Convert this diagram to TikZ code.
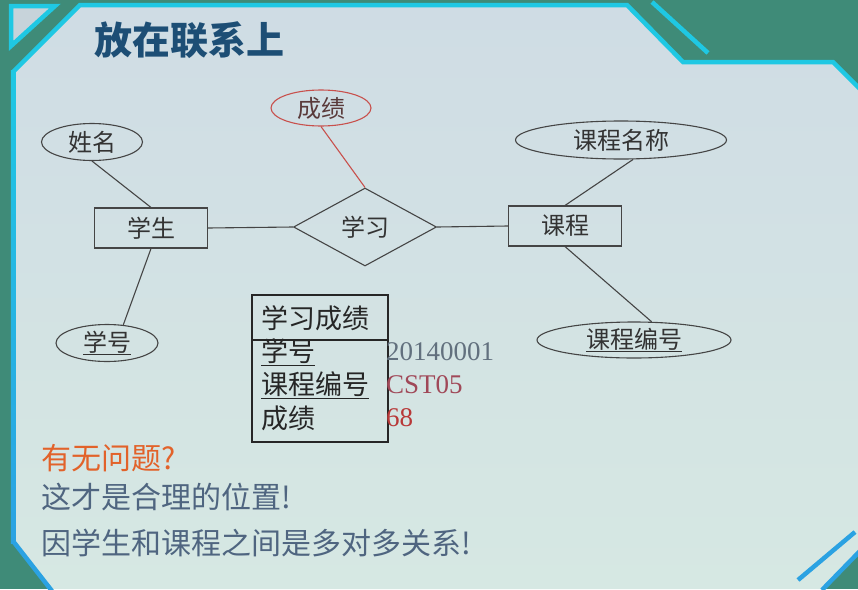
\documentclass[tikz,border=0pt]{standalone}
\usepackage{fontspec}
\setmainfont{Liberation Serif}
\newfontfamily\cjk{Noto Sans CJK SC}
\usetikzlibrary{shapes.geometric}

\definecolor{bgteal}{HTML}{3F8B78}
\definecolor{paneltop}{HTML}{CFDCE4}
\definecolor{panelbot}{HTML}{D6E8E3}
\definecolor{framecyan}{HTML}{1FC8E3}
\definecolor{frameblue}{HTML}{2BA2E2}
\definecolor{titleblue}{HTML}{1D4E75}
\definecolor{linegray}{HTML}{454545}
\definecolor{ertext}{HTML}{333333}
\definecolor{attrred}{HTML}{C8504C}
\definecolor{attrtext}{HTML}{5A3A3A}
\definecolor{valblue}{HTML}{62707E}
\definecolor{valmaroon}{HTML}{A04858}
\definecolor{valred}{HTML}{B83838}
\definecolor{askorange}{HTML}{E2622A}
\definecolor{notegray}{HTML}{4F6580}

\begin{document}
\begin{tikzpicture}[x=1pt,y=-1pt,
  er/.style={draw=linegray, line width=1.1pt, inner sep=0pt, text=ertext,
             font=\cjk\fontsize{24}{26}\selectfont},
  attr/.style={er, ellipse},
  entity/.style={er, rectangle, minimum width=113pt, minimum height=40pt},
  relation/.style={er, diamond, aspect=1.83, minimum width=143pt, minimum height=78pt},
  link/.style={draw=linegray, line width=1.1pt},
  frame/.style={draw=framecyan, line width=4.5pt, line join=miter},
  tabtext/.style={anchor=west, inner sep=0pt, text=black!85,
                  font=\cjk\fontsize{27}{29}\selectfont},
  tabval/.style={anchor=west, inner sep=0pt, font=\fontsize{27}{29}\selectfont},
  note/.style={anchor=west, inner sep=0pt, font=\cjk\fontsize{30}{32}\selectfont}]

\useasboundingbox (0,0) rectangle (858,589);

% slide background and content panel
\fill[bgteal] (0,0) rectangle (858,589);
\shade[top color=paneltop, bottom color=panelbot]
  (13,70) -- (80,5) -- (627,5) -- (683,62) -- (833,62) -- (858,87)
  -- (858,553) -- (822,589) -- (50,589) -- (13,543) -- cycle;

% frame lines
\draw[frame] (13,72) -- (80,5) -- (627,5) -- (683,62) -- (833,62) -- (860,89);
\shade[top color=framecyan, bottom color=frameblue] (10.75,70) rectangle (15.25,543);
\draw[draw=frameblue, line width=4.5pt] (13,541) -- (52,591);
\draw[frame] (652,2) -- (708,53);
\draw[frame, fill=paneltop!90!gray] (11,6) -- (55,6) -- (11,46) -- cycle;
\draw[draw=frameblue, line width=4.5pt] (855,532) -- (798,580);
\draw[draw=frameblue, line width=4.5pt] (860,551) -- (822,590);

% title
\node[anchor=west, inner sep=0pt, text=titleblue,
      font=\cjk\bfseries\fontsize{38}{40}\selectfont] (title) at (94,40) {放在联系上};

% E-R diagram
\node[attr, draw=attrred, text=attrtext, minimum width=100pt, minimum height=36pt] (cj) at (321,108) {成绩};
\node[attr, minimum width=101pt, minimum height=37pt] (xm) at (92,142) {姓名};
\node[entity] (xs) at (151,228) {学生};
\node[relation] (xx) at (365,227) {学习};
\node[entity] (kc) at (565,226) {课程};
\node[attr, minimum width=211pt, minimum height=38pt] (kmc) at (621,140) {课程名称};
\node[attr, minimum width=194pt, minimum height=36pt] (kbh) at (634,340) {\underline{课程编号}};
\node[attr, minimum width=102pt, minimum height=37pt] (xh) at (107,343) {\underline{学号}};

\draw[link] (xm.south) -- (xs.north);
\draw[link] (xs.south) -- (xh.48);
\draw[link] (xs.east) -- (xx.west);
\draw[link] (xx.east) -- (kc.west);
\draw[link, draw=attrred] (cj.south) -- (xx.north);
\draw[link] (kmc.-58) -- (kc.north);
\draw[link] (kc.south) -- (kbh.46);

% relation table
\node[draw=black!85, line width=1.3pt, minimum width=136pt, minimum height=147pt,
      inner sep=0pt] (tbl) at (320,368.5) {};
\draw[black!85, line width=1.3pt] (tbl.west |- 0,340) -- (tbl.east |- 0,340);
\node[tabtext] (th) at (261,318) {学习成绩};
\node[tabtext] (r1) at (261,352) {\underline{学号}};
\node[tabtext] (r2) at (261,385) {\underline{课程编号}};
\node[tabtext] (r3) at (261,418) {成绩};
\node[tabval, text=valblue] (v1) at (386,352) {20140001};
\node[tabval, text=valmaroon] (v2) at (386,385) {CST05};
\node[tabval, text=valred] (v3) at (386,418) {68};

% notes
\node[note, text=askorange] (q) at (41,458) {有无问题?};
\node[note, text=notegray] (n1) at (41,497) {这才是合理的位置!};
\node[note, text=notegray] (n2) at (41,543) {因学生和课程之间是多对多关系!};

\end{tikzpicture}
\end{document}
